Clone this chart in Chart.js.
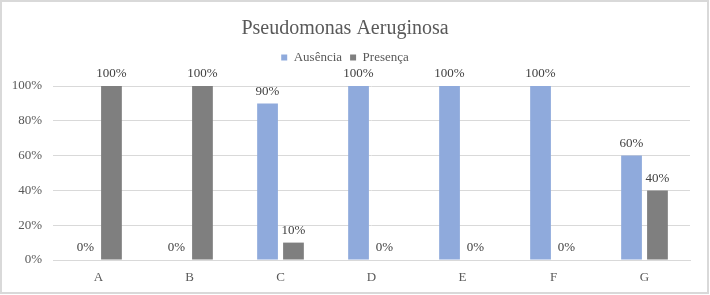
<!DOCTYPE html>
<html>
<head>
<meta charset="utf-8">
<script src="https://cdn.jsdelivr.net/npm/chart.js@4/dist/chart.umd.min.js"></script>
<style>
  html, body { margin: 0; padding: 0; background: #fff; }
  #wrap { position: relative; width: 710px; height: 295px; }
</style>
</head>
<body>
<div id="wrap"><canvas id="pseudoChart" width="710" height="295"></canvas></div>
<script>
const categorias = ['A', 'B', 'C', 'D', 'E', 'F', 'G'];
const ausencia = [0, 0, 90, 100, 100, 100, 60];
const presenca = [100, 100, 10, 0, 0, 0, 40];
const ticksY = [0, 20, 40, 60, 80, 100];

const fonte = 'Liberation Serif, Times New Roman, serif';
const cinzaTexto = '#595959';

// rotulos em cima das barras + moldura cinza
const rotulos = {
  id: 'rotulos',
  beforeInit(chart) {
    // mais espaco entre legenda e grafico
    const fitOrig = chart.legend.fit;
    chart.legend.fit = function () {
      fitOrig.call(this);
      this.height += 12;
    };
  },
  afterDatasetsDraw(chart) {
    const ctx = chart.ctx;
    ctx.save();
    ctx.font = '13px ' + fonte;
    ctx.fillStyle = '#404040';
    ctx.textAlign = 'center';
    ctx.textBaseline = 'middle';
    chart.data.datasets.forEach((ds, i) => {
      chart.getDatasetMeta(i).data.forEach((bar, j) => {
        ctx.fillText(ds.data[j] + '%', bar.x, bar.y - 12);
      });
    });
    ctx.restore();
  },
  afterDraw(chart) {
    const ctx = chart.ctx;
    ctx.save();
    ctx.strokeStyle = '#D9D9D9';
    ctx.lineWidth = 2;
    ctx.strokeRect(1, 1, chart.width - 3, chart.height - 3);
    ctx.restore();
  }
};

new Chart(document.getElementById('pseudoChart').getContext('2d'), {
  type: 'bar',
  data: {
    labels: categorias,
    datasets: [
      { label: 'Ausência', data: ausencia, backgroundColor: '#8FAADC' },
      { label: 'Presença', data: presenca, backgroundColor: '#7F7F7F' }
    ]
  },
  options: {
    responsive: false,
    animation: false,
    categoryPercentage: 0.57,
    barPercentage: 0.8,
    layout: { padding: { left: 0, right: 20, top: 0, bottom: 0 } },
    plugins: {
      title: {
        display: true,
        text: 'Pseudomonas Aeruginosa',
        color: cinzaTexto,
        font: { family: fonte, size: 20, weight: 'normal' },
        padding: { top: 17, bottom: 2 }
      },
      legend: {
        display: true,
        labels: {
          color: cinzaTexto,
          font: { family: fonte, size: 13 },
          boxWidth: 6,
          boxHeight: 6,
          padding: 8
        }
      },
      tooltip: { enabled: false }
    },
    scales: {
      x: {
        grid: { display: false, drawTicks: false },
        border: { color: '#D9D9D9' },
        ticks: { color: cinzaTexto, font: { family: fonte, size: 13 }, padding: 10 },
        afterFit(scale) { scale.height = 35; }
      },
      y: {
        min: 0,
        max: 100,
        grid: { color: '#D9D9D9', drawTicks: false },
        border: { display: false },
        afterBuildTicks(scale) { scale.ticks = ticksY.map(v => ({ value: v })); },
        ticks: {
          color: cinzaTexto,
          font: { family: fonte, size: 13 },
          padding: 11,
          callback: v => v + '%'
        },
        afterFit(scale) { scale.width = 53; }
      }
    }
  },
  plugins: [rotulos]
});
</script>
</body>
</html>
